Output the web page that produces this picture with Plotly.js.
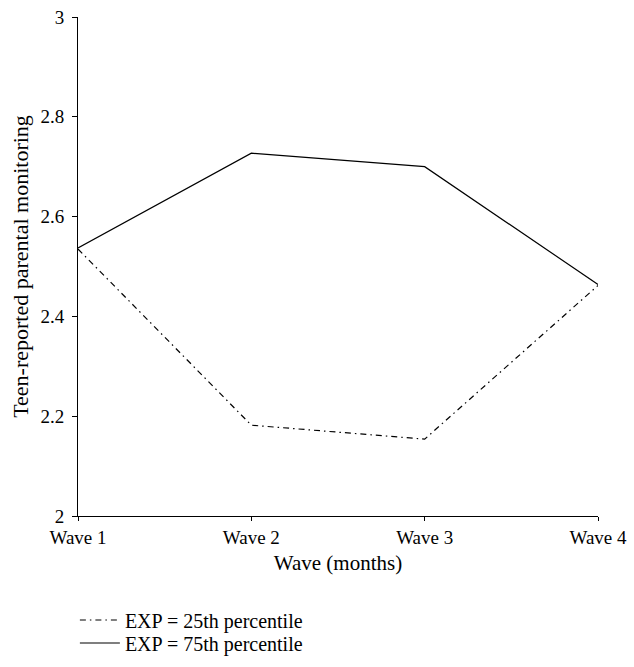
<!DOCTYPE html>
<html>
<head>
<meta charset="utf-8">
<script src="https://cdn.plot.ly/plotly-3.0.1.min.js"></script>
<style>html,body{margin:0;padding:0;background:#fff;}#chart{width:634px;height:667px;}</style>
</head>
<body>
<div id="chart"></div>
<script>
const waves = ["Wave 1", "Wave 2", "Wave 3", "Wave 4"];
const exp25 = [2.535, 2.182, 2.154, 2.462];
const exp75 = [2.537, 2.727, 2.700, 2.464];
const seriesNames = ["EXP = 25th percentile", "EXP = 75th percentile"];
const yTicks = [2, 2.2, 2.4, 2.6, 2.8, 3];

const fontFam = "Liberation Serif, Times New Roman, serif";
const traces = [
  {x: waves, y: exp25, name: seriesNames[0], type: "scatter", mode: "lines", legend: "legend",
   line: {color: "#000", width: 1.2, dash: "6px,4px,1.5px,4px"}},
  {x: waves, y: exp75, name: seriesNames[1], type: "scatter", mode: "lines", legend: "legend2",
   line: {color: "#000", width: 1.2}}
];
const legendBase = {xanchor: "left", yanchor: "middle", font: {size: 20, family: fontFam, color: "#000"},
                    itemwidth: 40, bgcolor: "rgba(0,0,0,0)", borderwidth: 0};
const layout = {
  width: 634, height: 667,
  margin: {l: 78, r: 36, t: 17, b: 151, autoexpand: false},
  paper_bgcolor: "#fff", plot_bgcolor: "#fff",
  font: {family: fontFam, size: 20, color: "#000"},
  showlegend: true,
  legend: Object.assign({}, legendBase, {x: -0.006, y: -0.2084}),
  legend2: Object.assign({}, legendBase, {x: -0.006, y: -0.2545}),
  xaxis: {type: "category", range: [0, 3], showline: true, linecolor: "#000", linewidth: 1,
          ticks: "outside", ticklen: 4, tickcolor: "#000", showgrid: false, zeroline: false,
          tickfont: {size: 19},
          title: {text: "Wave (months)", font: {size: 21}, standoff: 8}, automargin: false},
  yaxis: {range: [2, 3], tickvals: yTicks, ticktext: yTicks.map(String), showline: true,
          linecolor: "#000", linewidth: 1, ticks: "outside", ticklen: 5, tickcolor: "#000",
          showgrid: false, zeroline: false, tickfont: {size: 19}, ticklabelstandoff: 4,
          title: {text: "Teen-reported parental monitoring", font: {size: 22}, standoff: 5}, automargin: false}
};
Plotly.newPlot("chart", traces, layout, {displayModeBar: false, staticPlot: true});
</script>
</body>
</html>
